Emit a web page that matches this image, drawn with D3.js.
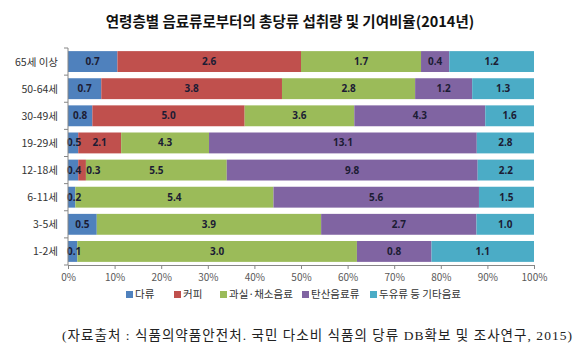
<!DOCTYPE html>
<html>
<head>
<meta charset="utf-8">
<script src="https://cdn.jsdelivr.net/npm/d3@7"></script>
<style>
body{margin:0;background:#fff;}
</style>
</head>
<body>
<script>
const svg_width = 580, svg_height = 361;
// chart data
var ages = ["65세 이상","50-64세","30-49세","19-29세","12-18세","6-11세","3-5세","1-2세"];
var seriesNames = ["다류","커피","과실·채소음료","탄산음료류","두유류 등 기타음료"];
var tea    = [0.7, 0.7, 0.8, 0.5, 0.4, 0.2, 0.5, 0.1];
var coffee = [2.6, 3.8, 5.0, 2.1, 0.3, 0,   0,   0];
var fruit  = [1.7, 2.8, 3.6, 4.3, 5.5, 5.4, 3.9, 3.0];
var soda   = [0.4, 1.2, 4.3, 13.1, 9.8, 5.6, 2.7, 0.8];
var other  = [1.2, 1.3, 1.6, 2.8, 2.2, 1.5, 1.0, 1.1];
var ticks = [0,10,20,30,40,50,60,70,80,90,100];
var colors = ["#4F81BD","#C0504D","#9BBB59","#8064A2","#4BACC6"];

var seriesVals = [tea, coffee, fruit, soda, other];
const line_start = 68, line_end = 534, top_y = 48, bottom_y = 265;

var svgContainer = d3.select("body").append("svg")
	.attr("width", svg_width)
	.attr("height", svg_height)
	.style("font-family", "'Noto Sans CJK KR', sans-serif");

svgContainer.append("text")
	.attr("x", 290).attr("y", 27)
	.attr("text-anchor", "middle")
	.attr("font-size", "14.5px")
	.attr("font-weight", "bold")
	.attr("fill", "#111")
	.text("연령층별 음료류로부터의 총당류 섭취량 및 기여비율(2014년)");

var xScale = d3.scaleLinear().domain([0,100]).range([line_start, line_end]);
var yScale = d3.scaleBand().domain(ages).range([top_y, bottom_y]).paddingInner(0.23).paddingOuter(0.115);

// build stacked percent rows
var rows = ages.map(function(a, i){
	var vals = seriesVals.map(function(s){return s[i]});
	var total = d3.sum(vals), acc = 0;
	return vals.map(function(v, k){
		var seg = {age: a, k: k, v: v, x0: acc/total*100, x1: (acc+v)/total*100};
		acc += v;
		return seg;
	});
});

var barGroup = svgContainer.append("g");
rows.forEach(function(row){
	barGroup.selectAll(null).data(row.filter(function(d){return d.v > 0}))
		.enter().append("rect")
		.attr("x", function(d){return xScale(d.x0)})
		.attr("y", function(d){return yScale(d.age)})
		.attr("width", function(d){return xScale(d.x1) - xScale(d.x0)})
		.attr("height", yScale.bandwidth())
		.attr("fill", function(d){return colors[d.k]});
});

// data labels, nudged right so small ones don't collide
var labelGroup = svgContainer.append("g");
rows.forEach(function(row){
	var prevEnd = line_start - 1, gap = 0;
	row.forEach(function(d){
		if (d.v <= 0) return;
		var t = labelGroup.append("text")
			.attr("y", yScale(d.age) + yScale.bandwidth()/2 + 3.5)
			.attr("text-anchor", "middle")
			.attr("font-size", "10px")
			.attr("font-weight", "bold")
			.attr("font-family", "'Noto Sans', sans-serif")
			.attr("fill", "#1c1c34")
			.text(d.v.toFixed(1));
		var half = t.node().getComputedTextLength() / 2;
		var cx = (xScale(d.x0) + xScale(d.x1)) / 2;
		cx = Math.max(cx, prevEnd + gap + half);
		prevEnd = cx + half;
		gap = 5;
		t.attr("x", cx);
	});
});

// axes
var axisColor = "#868686";
var yAxis = svgContainer.append("g");
yAxis.append("line")
	.attr("x1", line_start).attr("x2", line_start)
	.attr("y1", top_y).attr("y2", bottom_y)
	.attr("stroke", axisColor);
d3.range(ages.length + 1).forEach(function(i){
	var yy = top_y + (bottom_y - top_y) * i / ages.length;
	yAxis.append("line")
		.attr("x1", line_start - 4).attr("x2", line_start)
		.attr("y1", yy).attr("y2", yy)
		.attr("stroke", axisColor);
});
yAxis.selectAll("text.cat").data(ages).enter().append("text")
	.attr("class", "cat")
	.attr("x", 58)
	.attr("y", function(d){return yScale(d) + yScale.bandwidth()/2 + 4})
	.attr("text-anchor", "end")
	.attr("font-size", "10.5px")
	.attr("fill", "#333")
	.text(function(d){return d});

var xAxis = svgContainer.append("g")
	.attr("transform", "translate(0," + bottom_y + ")")
	.call(d3.axisBottom(xScale).tickValues(ticks).tickSize(4).tickFormat(function(d){return d + "%"}));
xAxis.select(".domain").attr("stroke", axisColor);
xAxis.selectAll(".tick line").attr("stroke", axisColor);
xAxis.selectAll(".tick text")
	.attr("fill", "#595959")
	.attr("font-size", "10px")
	.attr("font-family", "'Noto Sans CJK KR', sans-serif")
	.attr("dy", "0.9em");

// legend
var legendX = [126, 174, 220, 302, 370];
var legend = svgContainer.append("g");
seriesNames.forEach(function(name, k){
	var g = legend.append("g").attr("transform", "translate(" + legendX[k] + ",298)");
	g.append("rect").attr("x", 0).attr("y", -7).attr("width", 7).attr("height", 7).attr("fill", colors[k]);
	g.append("text").attr("x", 9).attr("y", 0)
		.attr("font-size", "10.5px").attr("fill", "#333").text(name);
});

svgContainer.append("text")
	.attr("x", 62).attr("y", 340)
	.attr("font-size", "13.5px")
	.attr("font-family", "'Liberation Serif', 'Noto Sans CJK KR', serif")
	.attr("fill", "#222")
	.attr("textLength", 510)
	.attr("lengthAdjust", "spacing")
	.text("(자료출처 : 식품의약품안전처. 국민 다소비 식품의 당류 DB확보 및 조사연구, 2015)");
</script>
</body>
</html>
